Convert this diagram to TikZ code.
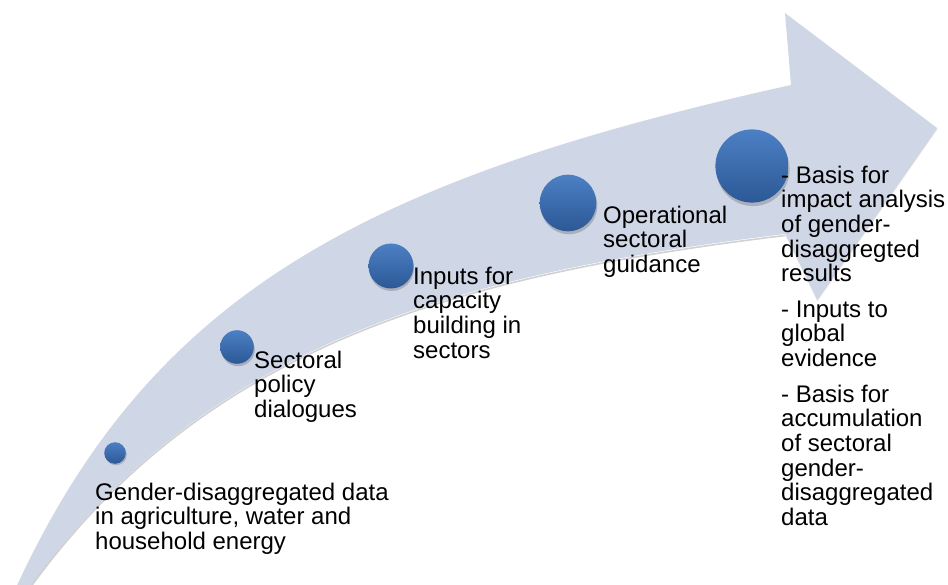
\documentclass[tikz,border=0pt]{standalone}
\usepackage{fontspec}
\setmainfont{Liberation Sans}
\definecolor{arrowfill}{RGB}{207,214,230}
\definecolor{balltop}{RGB}{76,128,196}
\definecolor{ballbot}{RGB}{44,88,150}
\tikzset{
  ball/.style={circle, inner sep=0pt, minimum size=#1, top color=balltop, bottom color=ballbot, draw=none},
  ballshadow/.style={fill=black, opacity=0.18},
  lbl/.style={anchor=north west, inner sep=0pt, align=left, font=\fontsize{24}{24.7}\selectfont, text=black},
}
\begin{document}
\begin{tikzpicture}[x=1pt,y=-1pt]
\useasboundingbox (0,0) rectangle (948,585);
\clip (0,0) rectangle (948,585);
% arrow body
\coordinate (tailA) at (14,592);
\coordinate (notchT) at (791,85);
\coordinate (headT) at (785,13);
\coordinate (tip) at (937,128);
\coordinate (headB) at (817,300);
\coordinate (notchB) at (785,234);
\coordinate (tailB) at (26,592);
\fill[arrowfill]
  (tailA) .. controls (150,293) and (366,179) .. (notchT)
  -- (headT) -- (tip) -- (headB) -- (notchB)
  .. controls (455,274) and (203,344) .. (tailB) -- cycle;
% soft shadow along lower edge
\draw[black, opacity=0.18, line width=1.6pt]
  ([yshift=-1.5pt]notchB) .. controls (455,275.5) and (203,345.5) .. ([yshift=-1.5pt]tailB);
\draw[black, opacity=0.10, line width=1.2pt] ([yshift=-1pt]headB) -- ([yshift=-1pt]tip);
% ball shadows
\fill[ballshadow] (116,454.5) circle (10.8);
\fill[ballshadow] (238,349.5) circle (16.8);
\fill[ballshadow] (391.5,268.5) circle (22.5);
\fill[ballshadow] (569,206) circle (28.3);
\fill[ballshadow] (753,169.5) circle (36.6);
% balls
\node[ball=21.6pt] (c1) at (115,453) {};
\node[ball=33.6pt] (c2) at (237,347) {};
\node[ball=45pt] (c3) at (391,266) {};
\node[ball=56.6pt] (c4) at (568,203) {};
\node[ball=73.2pt] (c5) at (752,166) {};
% labels (top = baseline - 17.5)
\node[lbl] (t1) at (95,482.5) {Gender-disaggregated data\\in agriculture, water and\\household energy};
\node[lbl] (t2) at (254,350.5) {Sectoral\\policy\\dialogues};
\node[lbl] (t3) at (413,266.5) {Inputs for\\capacity\\building in\\sectors};
\node[lbl] (t4) at (603,205.5) {Operational\\sectoral\\guidance};
\node[lbl] (t5a) at (781,165.5) {- Basis for\\impact analysis\\of gender-\\disaggregted\\results};
\node[lbl] (t5b) at (781,300.5) {- Inputs to\\global\\evidence};
\node[lbl] (t5c) at (781,384.5) {- Basis for\\accumulation\\of sectoral\\gender-\\disaggregated\\data};
\end{tikzpicture}
\end{document}
